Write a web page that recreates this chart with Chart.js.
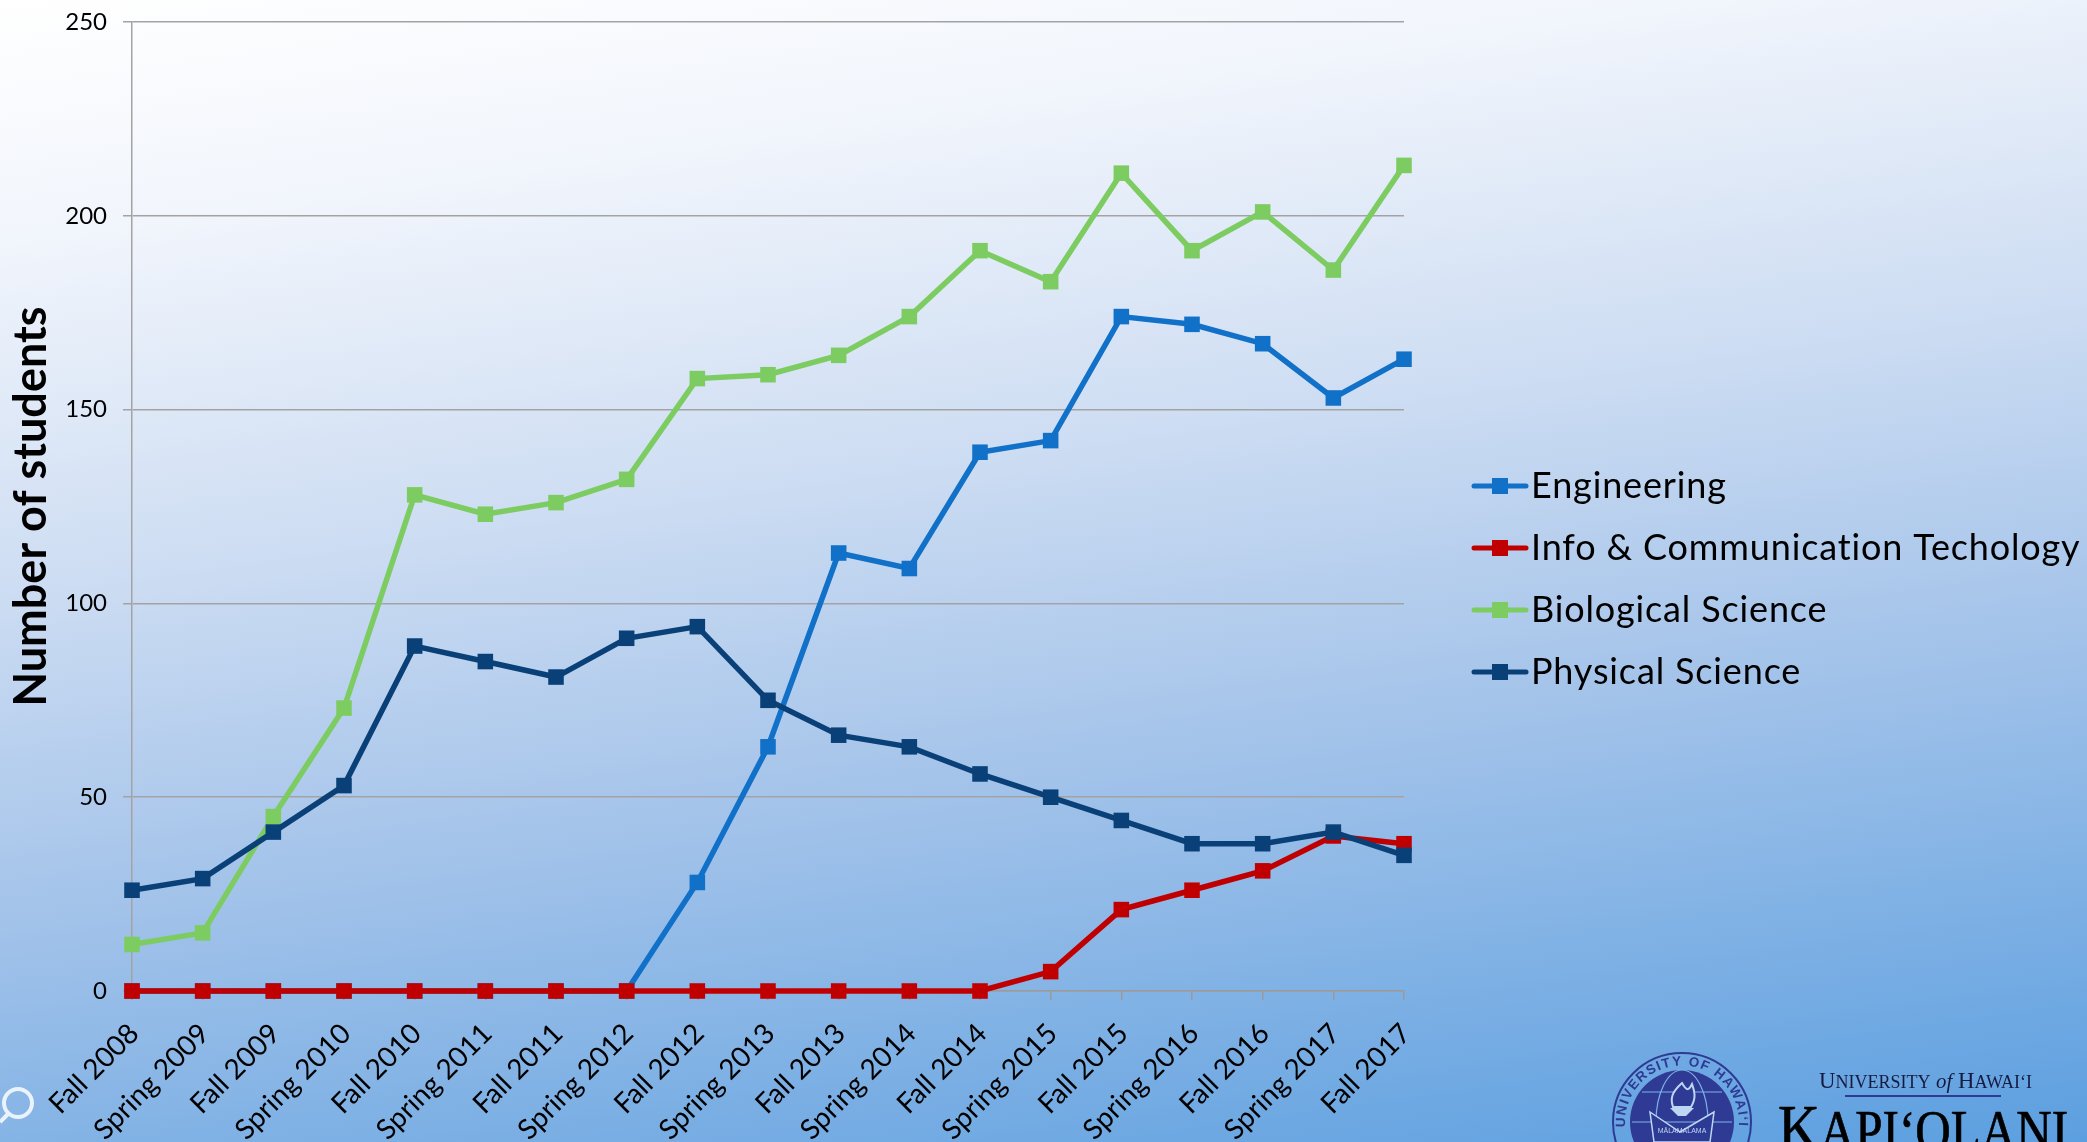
<!DOCTYPE html>
<html><head><meta charset="utf-8">
<script src="https://cdn.jsdelivr.net/npm/chart.js@4"></script>
<style>
html,body{margin:0;padding:0;width:2087px;height:1142px;overflow:hidden}
body{position:relative;background:linear-gradient(172deg,#ffffff 0%,#f1f5fc 17%,#cfdef3 40%,#a5c4ea 63%,#7bafe4 84%,#5c9fe0 100%)}
canvas{position:absolute;left:0;top:0}
svg{position:absolute;left:0;top:0}
</style></head><body>
<canvas id="c" width="2087" height="1400" style="width:2087px;height:1400px"></canvas>
<svg width="2087" height="1142" viewBox="0 0 2087 1142">
  <circle cx="18" cy="1103" r="14" fill="none" stroke="#eaf3fc" stroke-width="4"/>
  <line x1="0" y1="1122" x2="9" y2="1113" stroke="#eaf3fc" stroke-width="4"/>
  <defs><path id="ring" d="M1641 1162 A57 57 0 1 1 1723 1162"/></defs>
  <circle cx="1682" cy="1122" r="69" fill="none" stroke="#2e3a94" stroke-width="2"/>
  <circle cx="1682" cy="1122" r="52" fill="#2e3a94"/>
  <text font-family="Liberation Sans" font-size="13.5" font-weight="700" fill="#2e3a94" letter-spacing="1.4"><textPath href="#ring" startOffset="50%" text-anchor="middle">UNIVERSITY OF HAWAI‘I</textPath></text>
  <g fill="none" stroke="#7fb2e6" stroke-width="1.2">
    <ellipse cx="1682" cy="1122" rx="26" ry="52"/>
    <line x1="1642" y1="1092" x2="1722" y2="1092"/>
    <line x1="1632" y1="1122" x2="1732" y2="1122"/>
  </g>
  <path d="M1682 1083 C1672 1092 1670 1098 1673 1107 L1691 1107 C1697 1097 1694 1090 1692 1084 C1689 1090 1687 1092 1682 1083 Z" fill="#2e3a94" stroke="#bcd6f3" stroke-width="2"/>
  <path d="M1670 1108 H1694 L1686 1116 H1678 Z" fill="#bcd6f3"/>
  <path d="M1650 1112 L1680 1132 L1714 1112 L1710 1142 H1654 Z" fill="#2e3a94" stroke="#bcd6f3" stroke-width="1.5"/>
  <text x="1682" y="1133" text-anchor="middle" font-family="Liberation Sans" font-size="7" fill="#bcd6f3">MĀLAMALAMA</text>
  <text x="1819" y="1088" font-family="Liberation Serif" fill="#141a40" font-size="24" textLength="213" lengthAdjust="spacingAndGlyphs">U<tspan font-size="19">NIVERSITY</tspan> <tspan font-style="italic" font-size="22">of</tspan> H<tspan font-size="19">AWAI‘I</tspan></text>
  <line x1="1845" y1="1096" x2="2001" y2="1096" stroke="#2e3a94" stroke-width="2"/>
  <text x="1778" y="1150" font-family="Liberation Serif" fill="#000" stroke="#000" stroke-width="0.7" font-size="66" textLength="290" lengthAdjust="spacingAndGlyphs">K<tspan font-size="56">API‘OLANI</tspan></text>
</svg>
<script>
const categories = ["Fall 2008","Spring 2009","Fall 2009","Spring 2010","Fall 2010","Spring 2011","Fall 2011","Spring 2012","Fall 2012","Spring 2013","Fall 2013","Spring 2014","Fall 2014","Spring 2015","Fall 2015","Spring 2016","Fall 2016","Spring 2017","Fall 2017"];
const engineering = [0,0,0,0,0,0,0,0,28,63,113,109,139,142,174,172,167,153,163];
const infoComm    = [0,0,0,0,0,0,0,0,0,0,0,0,0,5,21,26,31,40,38];
const biological  = [12,15,45,73,128,123,126,132,158,159,164,174,191,183,211,191,201,186,213];
const physical    = [26,29,41,53,89,85,81,91,94,75,66,63,56,50,44,38,38,41,35];
const yTicks = [0,50,100,150,200,250];

const TICK_FONT = "Lato";
const LEGEND_FONT = "Lato";
function ds(label,data,color,order){
  return {label,data,order,borderColor:color,backgroundColor:color,borderWidth:5.5,
    pointStyle:'rect',pointRadius:11,pointBorderWidth:0,pointHoverRadius:11,tension:0,clip:false};
}
const legendPlugin = {
  id:'sideLegend',
  afterDraw(chart){
    const c = chart.ctx, rows=[486,548,610,672];
    chart.data.datasets.forEach((d,i)=>{
      c.save();
      c.strokeStyle=d.borderColor; c.lineWidth=5; c.lineCap='round';
      c.beginPath(); c.moveTo(1474,rows[i]); c.lineTo(1526,rows[i]); c.stroke();
      c.fillStyle=d.borderColor; c.fillRect(1492,rows[i]-8,16,16);
      c.fillStyle='#000'; c.font='36px '+LEGEND_FONT; c.textBaseline='alphabetic';
      c.letterSpacing='0.85px';
      c.fillText(d.label,1531,rows[i]+12);
      c.restore();
    });
  }
};
new Chart(document.getElementById('c'),{
  type:'line',
  data:{labels:categories,datasets:[
    ds('Engineering',engineering,'#1170c8',4),
    ds('Info & Communication Techology',infoComm,'#c00000',2),
    ds('Biological Science',biological,'#7dcc62',3),
    ds('Physical Science',physical,'#0a4078',1)
  ]},
  options:{
    responsive:false,animation:false,
    layout:{padding:{left:0,top:22,right:683,bottom:0}},
    plugins:{legend:{display:false},tooltip:{enabled:false}},
    scales:{
      x:{
        offset:false,
        afterFit(s){s.height=409;s.paddingLeft=0;s.paddingRight=0;},
        grid:{drawOnChartArea:false,color:'#9a9a9a',lineWidth:1.5,tickLength:9,drawTicks:true},
        border:{color:'#9a9a9a',width:1.5},
        ticks:{autoSkip:false,maxRotation:45,minRotation:45,color:'#000',padding:17,labelOffset:2,font:{family:TICK_FONT,size:28}}
      },
      y:{
        min:0,max:250,
        afterFit(s){s.width=132;s.paddingTop=0;s.paddingBottom=0;},
        afterBuildTicks(s){s.ticks=yTicks.map(v=>({value:v}));},
        grid:{color:'#a3a3a3',lineWidth:1.5,tickLength:9},
        border:{color:'#a3a3a3',width:1.5},
        ticks:{color:'#000',padding:16,font:{family:TICK_FONT,size:24}},
        title:{display:true,text:'Number of students',color:'#000',padding:{top:4,bottom:0},font:{family:TICK_FONT,size:45,weight:'700'}}
      }
    }
  },
  plugins:[legendPlugin]
});
</script>
</body></html>
